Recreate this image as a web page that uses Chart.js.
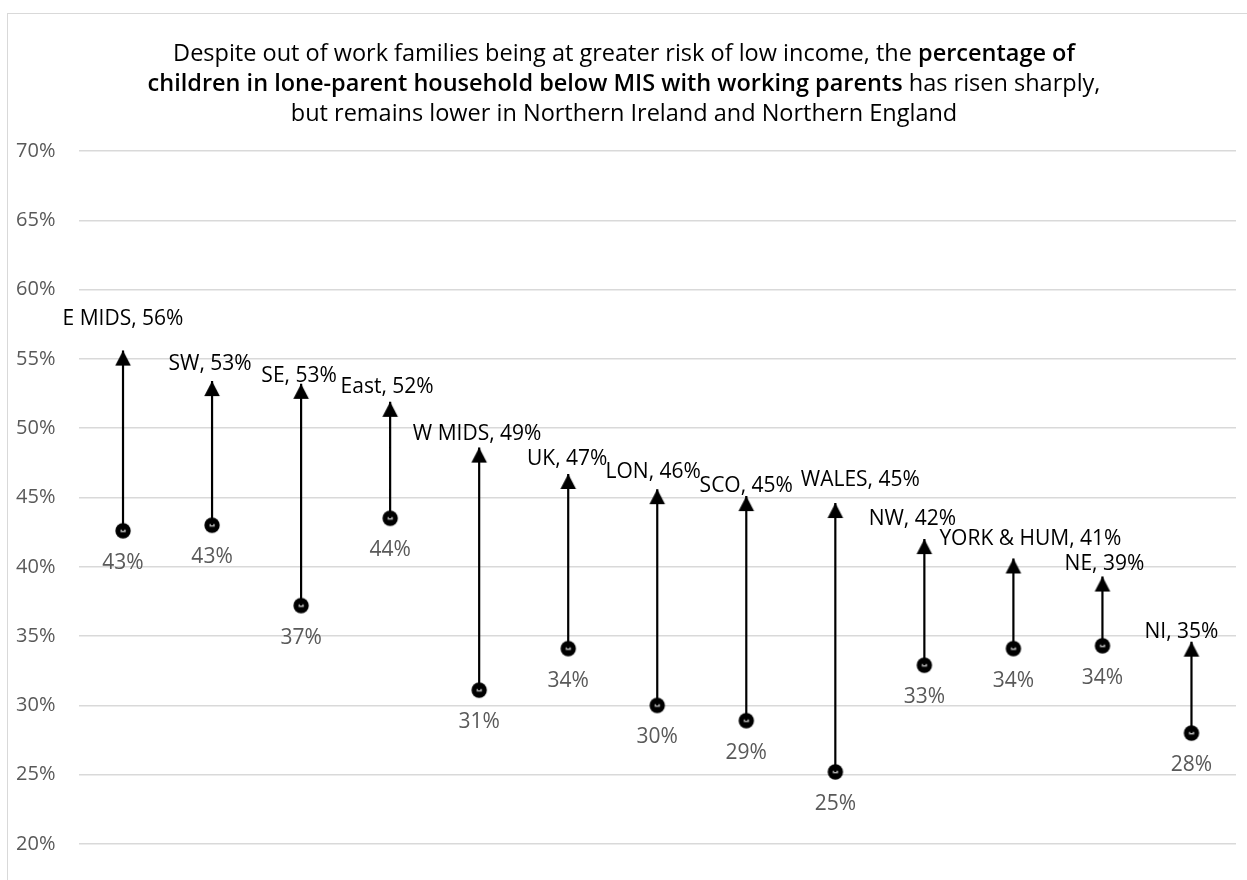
<!DOCTYPE html>
<html>
<head>
<meta charset="utf-8">
<script src="https://cdn.jsdelivr.net/npm/chart.js@4.4.1/dist/chart.umd.min.js"></script>
<style>
  html, body { margin: 0; padding: 0; background: #fff; }
  #wrap { position: relative; width: 1247px; height: 880px; overflow: hidden; }
  #frame { position: absolute; left: 7px; top: 13px; width: 1300px; height: 950px;
           border: 1px solid #d9d9d9; box-sizing: border-box; }
  #c { position: absolute; left: 0; top: 0; }
</style>
</head>
<body>
<div id="wrap">
  <div id="frame"></div>
  <canvas id="c" width="1247" height="880"></canvas>
</div>
<script>
// Regions, in the order they are plotted
const regions = ['E MIDS', 'SW', 'SE', 'East', 'W MIDS', 'UK', 'LON', 'SCO', 'WALES',
                 'NW', 'YORK & HUM', 'NE', 'NI'];
// Earlier share of children below MIS with working lone parents (%)
const earlierShare = [42.6, 43.0, 37.2, 43.5, 31.1, 34.1, 30.0, 28.9, 25.2, 32.9, 34.1, 34.3, 28.0];
// Latest share (%)
const latestShare = [55.6, 53.4, 53.2, 51.9, 48.6, 46.7, 45.6, 45.1, 44.6, 42.0, 40.6, 39.3, 34.6];
// Value axis
const yMin = 20, yMax = 70, yStep = 5;

// Title lines, split into regular / bold runs
const titleLines = [
  [['Despite out of work families being at greater risk of low income, the ', false], ['percentage of', true]],
  [['children in lone-parent household below MIS with working parents', true], [' has risen sharply,', false]],
  [['but remains lower in Northern Ireland and Northern England', false]]
];

// Hand-placed offsets of the region labels relative to the arrow tips [dx, dy]
const labelNudge = [[0,-32],[-2,-17],[-2,-8],[-3,-15],[-2,-14],[-1,-15],[-4,-17],[0,-10],
                    [25,-23],[-12,-20],[17,-19],[2,-12],[-10,-10]];

const FONT = "'Open Sans', 'DejaVu Sans', sans-serif";

// Arrowhead sprite: tip sits at the sprite centre so it lands on the data value
function makeArrowHead() {
  const c = document.createElement('canvas');
  c.width = 40; c.height = 40;
  const g = c.getContext('2d');
  g.fillStyle = '#000';
  g.beginPath();
  g.moveTo(20, 20);
  g.lineTo(27.8, 35);
  g.lineTo(12.2, 35);
  g.closePath();
  g.fill();
  return c;
}
// Start marker: black dot with a small grey dash
function makeDot() {
  const c = document.createElement('canvas');
  c.width = 20; c.height = 20;
  const g = c.getContext('2d');
  g.fillStyle = '#000';
  g.beginPath();
  g.arc(10, 10, 7.7, 0, Math.PI * 2);
  g.fill();
  g.fillStyle = '#b4b4b4';
  g.fillRect(7.5, 8.8, 5.2, 2.6);
  return c;
}

// Stems: one segment per region, separated by gaps
const stemPoints = [];
regions.forEach((r, i) => {
  stemPoints.push({ x: i, y: earlierShare[i] });
  stemPoints.push({ x: i, y: latestShare[i] });
  stemPoints.push({ x: i, y: null });
});

const titlePlugin = {
  id: 'mixedTitle',
  afterDraw(chart) {
    const ctx = chart.ctx;
    const cx = 624;
    const ys = [54, 84, 114];
    const fontFor = b => (b ? '600 ' : '400 ') + '23.5px ' + FONT;
    ctx.save();
    ctx.fillStyle = '#000';
    ctx.textBaseline = 'middle';
    ctx.textAlign = 'left';
    titleLines.forEach((runs, li) => {
      let total = 0;
      runs.forEach(([t, b]) => {
        ctx.font = fontFor(b);
        total += ctx.measureText(t).width;
      });
      let x = cx - total / 2;
      runs.forEach(([t, b]) => {
        ctx.font = fontFor(b);
        ctx.fillText(t, x, ys[li]);
        x += ctx.measureText(t).width;
      });
    });
    ctx.restore();
  }
};

const labelPlugin = {
  id: 'pointLabels',
  afterDatasetsDraw(chart) {
    const ctx = chart.ctx;
    const tips = chart.getDatasetMeta(1).data;
    const dots = chart.getDatasetMeta(2).data;
    ctx.save();
    ctx.textAlign = 'center';
    ctx.textBaseline = 'middle';
    ctx.font = '21px ' + FONT;
    regions.forEach((r, i) => {
      const t = tips[i];
      ctx.fillStyle = '#000';
      ctx.fillText(r + ', ' + Math.round(latestShare[i]) + '%',
                   t.x + labelNudge[i][0], t.y + labelNudge[i][1]);
      const d = dots[i];
      ctx.fillStyle = '#595959';
      ctx.fillText(Math.round(earlierShare[i]) + '%', d.x, d.y + 32);
    });
    ctx.restore();
  }
};

new Chart(document.getElementById('c'), {
  type: 'scatter',
  data: {
    datasets: [
      {
        label: 'change',
        data: stemPoints,
        showLine: true,
        spanGaps: false,
        borderColor: '#000',
        borderWidth: 2.2,
        pointRadius: 0
      },
      {
        label: 'latest',
        data: latestShare.map((v, i) => ({ x: i, y: v })),
        pointStyle: makeArrowHead(),
        pointRadius: 10
      },
      {
        label: 'earlier',
        data: earlierShare.map((v, i) => ({ x: i, y: v })),
        pointStyle: makeDot(),
        pointRadius: 8
      }
    ]
  },
  options: {
    responsive: false,
    animation: false,
    devicePixelRatio: 1,
    layout: { padding: { top: 151, bottom: 36, left: 0, right: 2 } },
    plugins: { legend: { display: false }, tooltip: { enabled: false }, title: { display: false } },
    scales: {
      x: { type: 'linear', min: -0.5, max: regions.length - 0.5, display: false },
      y: {
        min: yMin, max: yMax,
        afterFit(scale) { scale.width = 78.5; },
        ticks: {
          stepSize: yStep,
          padding: 23,
          color: '#595959',
          font: { family: FONT, size: 20 },
          callback: v => v + '%'
        },
        grid: { color: '#d9d9d9', lineWidth: 1.5, drawTicks: false },
        border: { display: false }
      }
    }
  },
  plugins: [titlePlugin, labelPlugin]
});
</script>
</body>
</html>
